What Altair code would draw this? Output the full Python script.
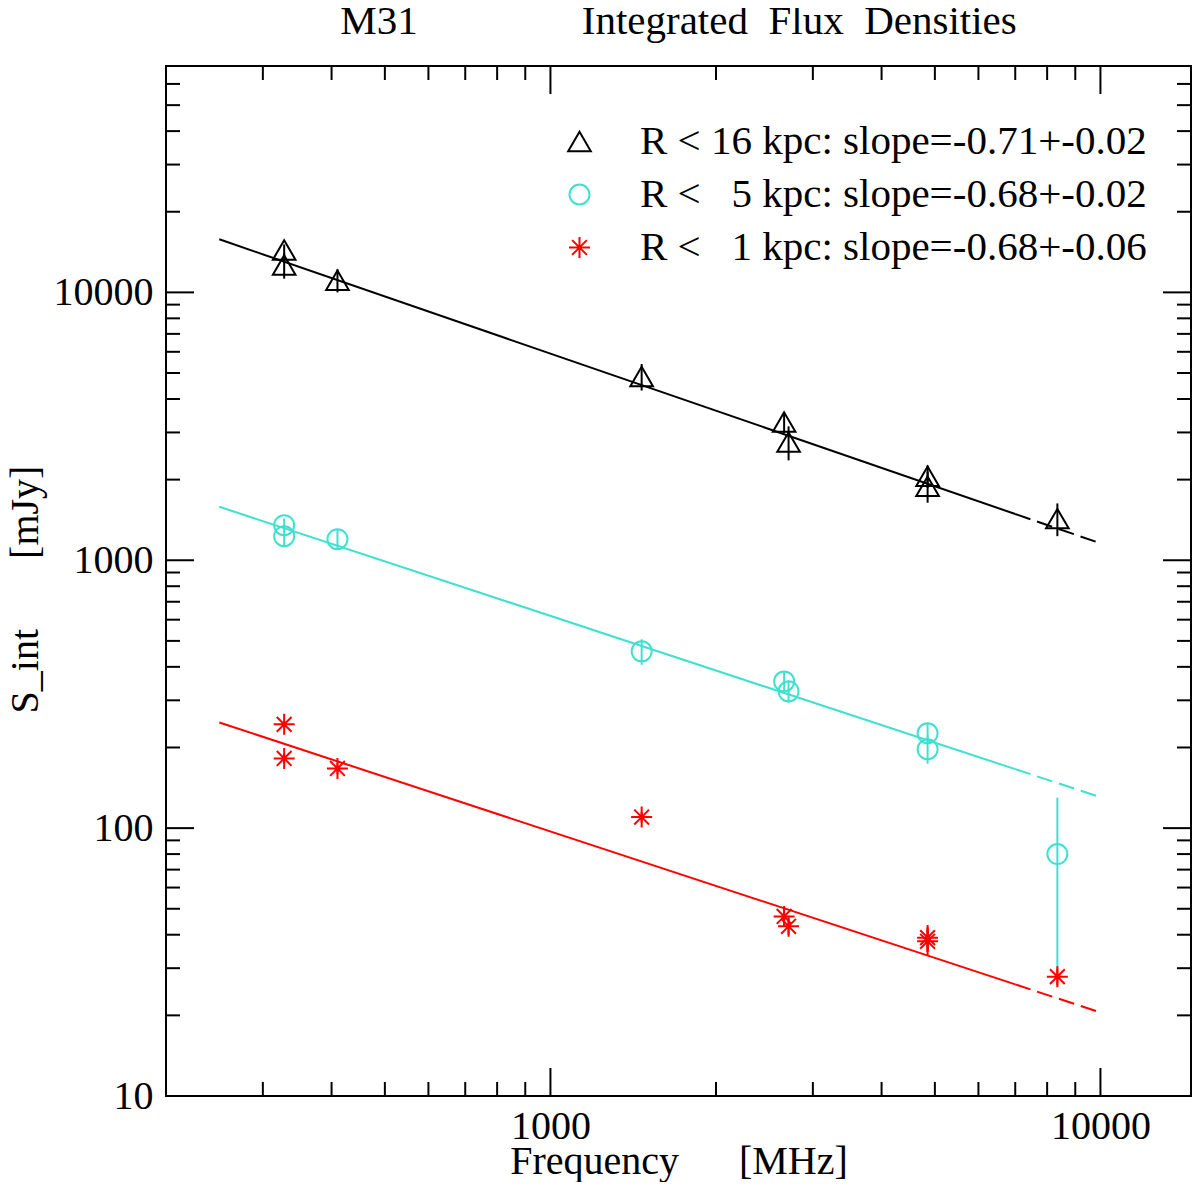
import altair as alt
import pandas as pd

# frequencies of the measurements (MHz)
freq = [328, 328, 410, 1465, 2660, 2710, 4850, 4850, 8350]

# integrated flux densities (mJy) and their errors
s_16 = [14400, 12650, 11100, 4850, 3280, 2760, 2060, 1890, 1430]
e_16 = [700, 1400, 1100, 550, 300, 400, 200, 250, 200]
s_5 = [1352, 1230, 1198, 457, 353, 324, 226, 197, 80]
e_5 = [80, 100, 100, 50, 30, 30, 20, 23, 50]
s_1 = [244, 182, 167, 110, 46.8, 43, 39, 37.8, 27.9]
e_1 = [8, 8, 8, 5, 4, 3, 4.5, 4.5, 2]

# fitted power laws: solid up to 7 GHz, dashed beyond
fit_freq = [250, 7000, 10000]
fit_16 = [15780, 1488, 1157]
fit_5 = [1584, 166, 130.5]
fit_1 = [248, 26.1, 20.5]

nb = '\u00a0'
labels = ['R < 16 kpc: slope=-0.71+-0.02',
          'R <' + nb * 3 + '5 kpc: slope=-0.68+-0.02',
          'R <' + nb * 3 + '1 kpc: slope=-0.68+-0.06']
colors = ['black', '#40e0d0', 'red']
# open triangle, open circle, 8-armed asterisk (xmgrace style symbols)
shapes = ['M0,-0.97L-1.13,0.97L1.13,0.97Z',
          'circle',
          'M-1.05,0L1.05,0M0,-1.05L0,1.05M-0.74,-0.74L0.74,0.74M-0.74,0.74L0.74,-0.74']

# axis ticks
x_major = [1000, 10000]
x_minor = [300, 400, 500, 600, 700, 800, 900,
           2000, 3000, 4000, 5000, 6000, 7000, 8000, 9000]
y_major = [10, 100, 1000, 10000]
y_minor = [20, 30, 40, 50, 60, 70, 80, 90,
           200, 300, 400, 500, 600, 700, 800, 900,
           2000, 3000, 4000, 5000, 6000, 7000, 8000, 9000,
           20000, 30000, 40000, 50000, 60000]

W, H = 1025, 1030
FONT = 'Liberation Serif'
SYM = 400

rows = []
for lab, col, ss, ee in zip(labels, colors, [s_16, s_5, s_1], [e_16, e_5, e_1]):
    for f, s, e in zip(freq, ss, ee):
        rows.append({'series': lab, 'col': col, 'freq': f, 'S': s,
                     'lo': s - e, 'hi': s + e})
pts = pd.DataFrame(rows)

solid, dashed = [], []
for lab, col, ff in zip(labels, colors, [fit_16, fit_5, fit_1]):
    for i, (f, s) in enumerate(zip(fit_freq, ff)):
        r = {'series': lab, 'col': col, 'freq': f, 'S': s}
        if i <= 1:
            solid.append(r)
        if i >= 1:
            dashed.append(r)
solid = pd.DataFrame(solid)
dashed = pd.DataFrame(dashed)

xscale = alt.Scale(type='log', domain=[200, 14610], nice=False)
yscale = alt.Scale(type='log', domain=[10, 70000], nice=False)

xaxis = alt.Axis(values=x_major, format='d', title='Frequency' + nb * 6 + '[MHz]',
                 ticks=False, tickSize=0, domain=False, grid=False,
                 labelPadding=10, labelOverlap=False, labelFlush=False,
                 titleX=W / 2, titleY=77, titleAlign='center',
                 titleBaseline='alphabetic')
yaxis = alt.Axis(values=y_major, format='d', title='S_int' + nb * 7 + '[mJy]',
                 ticks=False, tickSize=0, domain=False, grid=False,
                 labelPadding=13, labelOverlap=False, labelFlush=False,
                 titleX=-129, titleY=523, titleAngle=270, titleAlign='center',
                 titleBaseline='alphabetic')


def X(field):
    return alt.X(field, type='quantitative', scale=xscale, axis=xaxis)


def Y(field):
    return alt.Y(field, type='quantitative', scale=yscale, axis=yaxis)


legend = alt.Legend(title=None, orient='none', legendX=393, legendY=55,
                    labelFont=FONT, labelFontSize=41, labelColor='black',
                    labelOffset=40, rowPadding=11, padding=0,
                    symbolSize=SYM, symbolStrokeWidth=2, labelLimit=0)

points = alt.Chart(pts).mark_point(filled=False, strokeWidth=2, opacity=1, size=SYM).encode(
    x=X('freq'),
    y=Y('S'),
    color=alt.Color('series:N', scale=alt.Scale(domain=labels, range=colors), legend=legend),
    shape=alt.Shape('series:N', scale=alt.Scale(domain=labels, range=shapes), legend=legend),
)

errbars = alt.Chart(pts).mark_rule(strokeWidth=2).encode(
    x=X('freq'),
    y=Y('lo'),
    y2='hi',
    color=alt.Color('col:N', scale=None),
)

fit_solid = alt.Chart(solid).mark_line(strokeWidth=2).encode(
    x=X('freq'), y=Y('S'), detail='series:N',
    color=alt.Color('col:N', scale=None),
)
fit_dashed = alt.Chart(dashed).mark_line(strokeWidth=2, strokeDash=[16, 7]).encode(
    x=X('freq'), y=Y('S'), detail='series:N',
    color=alt.Color('col:N', scale=None),
)


def xticks(vals, length):
    d = pd.DataFrame({'v': vals})
    bottom = alt.Chart(d).mark_rule(color='black', strokeWidth=2).encode(
        x=X('v'), y=alt.value(H), y2=alt.value(H - length))
    top = alt.Chart(d).mark_rule(color='black', strokeWidth=2).encode(
        x=X('v'), y=alt.value(0), y2=alt.value(length))
    return [bottom, top]


def yticks(vals, length):
    d = pd.DataFrame({'v': vals})
    left = alt.Chart(d).mark_rule(color='black', strokeWidth=2).encode(
        y=Y('v'), x=alt.value(0), x2=alt.value(length))
    right = alt.Chart(d).mark_rule(color='black', strokeWidth=2).encode(
        y=Y('v'), x=alt.value(W), x2=alt.value(W - length))
    return [left, right]


ticks = xticks(x_major, 28) + xticks(x_minor, 14) + yticks(y_major, 28) + yticks(y_minor, 14)

chart = alt.layer(
    *ticks, fit_solid, fit_dashed, errbars, points
).properties(
    width=W,
    height=H,
    autosize=alt.AutoSizeParams(type='none'),
    padding={'left': 158, 'top': 58, 'right': 1, 'bottom': 86},
    title=alt.TitleParams(
        text='M31' + nb * 16 + 'Integrated' + nb * 2 + 'Flux' + nb * 2 + 'Densities',
        font=FONT, fontSize=41, fontWeight='normal', color='black',
        anchor='middle', baseline='alphabetic', offset=0, dy=10),
).configure_axis(
    labelFont=FONT, titleFont=FONT, labelFontSize=40, titleFontSize=40,
    titleFontWeight='normal', labelColor='black', titleColor='black',
).configure_view(
    stroke='black', strokeWidth=2,
)

chart.save('out.html', embed_options={'renderer': 'svg', 'actions': False})
